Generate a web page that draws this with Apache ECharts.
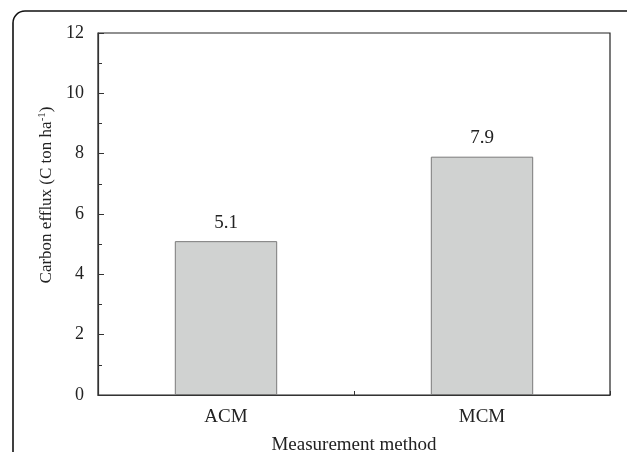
<!DOCTYPE html>
<html>
<head>
<meta charset="utf-8">
<script src="https://cdn.jsdelivr.net/npm/echarts@6/dist/echarts.min.js"></script>
<style>
  html, body { margin: 0; padding: 0; background: #fff; }
  #chart { width: 627px; height: 452px; }
</style>
</head>
<body>
<div id="chart"></div>
<script>
// Measurement methods and their carbon efflux totals (C ton/ha)
const methods = ['ACM', 'MCM'];
const effluxValues = [5.1, 7.9];
const yTicks = [0, 2, 4, 6, 8, 10, 12];

const serif = '"Liberation Serif", "DejaVu Serif", serif';
const chart = echarts.init(document.getElementById('chart'), null, { renderer: 'canvas' });

chart.setOption({
  backgroundColor: '#fff',
  animation: false,
  graphic: [{
    // panel frame, rounded at the top-left corner
    type: 'rect',
    shape: { x: 13, y: 11, width: 700, height: 500, r: [12, 0, 0, 0] },
    style: { fill: 'none', stroke: '#111', lineWidth: 1.6 },
    silent: true, z: 0
  }],
  grid: {
    left: 98, top: 33, right: 17, bottom: 57,
    containLabel: false,
    outerBoundsMode: 'none',
    show: true, borderColor: '#222', borderWidth: 1.2, backgroundColor: 'transparent'
  },
  xAxis: [{
    type: 'category',
    data: methods,
    boundaryGap: true,
    name: 'Measurement method',
    nameLocation: 'middle',
    nameGap: 41,
    nameTextStyle: { fontFamily: serif, fontSize: 19, color: '#222' },
    axisLine: { lineStyle: { color: '#333', width: 1.2 } },
    axisTick: { show: true, inside: true, alignWithLabel: true, length: 4, lineStyle: { color: '#333' } },
    axisLabel: { fontFamily: serif, fontSize: 19, color: '#222', margin: 13 }
  }, {
    // boundary ticks between categories
    type: 'category',
    data: methods,
    position: 'bottom',
    boundaryGap: true,
    axisLine: { show: false },
    axisTick: { show: true, inside: true, length: 4, lineStyle: { color: '#333' } },
    axisLabel: { show: false }
  }],
  yAxis: {
    type: 'value',
    min: yTicks[0],
    max: yTicks[yTicks.length - 1],
    interval: 2,
    name: '{t|Carbon efflux (C ton ha}{s|-1}{t|)}',
    nameLocation: 'middle',
    nameGap: 39,
    nameTextStyle: {
      padding: [0, 0, 0, 38],
      rich: {
        t: { fontFamily: serif, fontSize: 17, color: '#222' },
        s: { fontFamily: serif, fontSize: 11, color: '#222', verticalAlign: 'top', padding: [0, 0, 8, 0] }
      }
    },
    axisLine: { show: true, lineStyle: { color: '#333', width: 1.2 } },
    axisTick: { show: true, inside: true, length: 6, lineStyle: { color: '#333' } },
    minorTick: { show: true, splitNumber: 2, length: 4, lineStyle: { color: '#333' } },
    splitLine: { show: false },
    axisLabel: { fontFamily: serif, fontSize: 18, color: '#222', margin: 14 }
  },
  series: [{
    type: 'bar',
    data: effluxValues,
    barWidth: '40%',
    itemStyle: { color: '#d0d2d1', borderColor: '#7a7a7a', borderWidth: 1 },
    label: {
      show: true, position: 'top', distance: 9,
      fontFamily: serif, fontSize: 19, color: '#222',
      formatter: p => p.value.toFixed(1)
    }
  }]
});
</script>
</body>
</html>
